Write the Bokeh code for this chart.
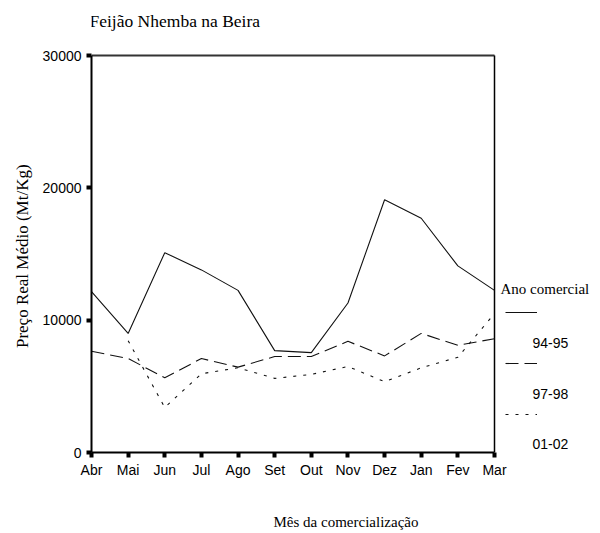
import math
from bokeh.plotting import figure
from bokeh.models import (Range1d, FixedTicker, Legend, LegendItem, Label,
                          PrintfTickFormatter)
from bokeh.embed import file_html
from bokeh.resources import INLINE

months = ["Abr", "Mai", "Jun", "Jul", "Ago", "Set", "Out", "Nov", "Dez", "Jan", "Fev", "Mar"]
y_ticks = [0, 10000, 20000, 30000]
s_94_95 = [12150, 9000, 15100, 13800, 12250, 7700, 7550, 11300, 19100, 17700, 14100, 12250]
s_97_98 = [7650, 7100, 5650, 7100, 6450, 7250, 7250, 8400, 7300, 9000, 8100, 8600]
s_01_02 = [math.nan, 8450, 3400, 5950, 6400, 5600, 5900, 6500, 5350, 6400, 7200, 10500]
series_names = ["94-95", "97-98", "01-02"]

x = list(range(len(months)))
last = len(months) - 1
y_max = y_ticks[-1]

SERIF = "Liberation Serif"
SANS = "Liberation Sans"

W, H = 600, 533
LEFT, BOTTOM = 91, 81
PLOT_W, PLOT_H = 403, 397  # pixel size of the box from Abr to Mar, 0 to 30000
x_end = last * (W - LEFT) / PLOT_W          # frame runs to the right edge (room for the key)
y_end = y_max * (H - BOTTOM) / PLOT_H       # and to the top edge (room for the title)

p = figure(width=W, height=H, output_backend="svg", toolbar_location=None,
           x_range=Range1d(0, x_end), y_range=Range1d(0, y_end),
           min_border_left=LEFT, min_border_right=0, min_border_top=0,
           min_border_bottom=BOTTOM)
p.above = []

p.background_fill_color = "white"
p.border_fill_color = "white"
p.outline_line_color = None
p.grid.grid_line_color = None

# box: top edge and right edge (left and bottom are the axes)
p.segment(x0=[0], y0=[y_max], x1=[last], y1=[y_max], line_color="#333333", line_width=2)
p.segment(x0=[last], y0=[0], x1=[last], y1=[y_max], line_color="black", line_width=1.5)

r1 = p.line(x, s_94_95, line_color="#111111", line_width=1.1)
r2 = p.line(x, s_97_98, line_color="#111111", line_width=1.1, line_dash="13 6")
r3 = p.line(x, s_01_02, line_color="#111111", line_width=1.1, line_dash="3 7")

for ax in (p.xaxis[0], p.yaxis[0]):
    ax.major_tick_line_width = 4
    ax.major_tick_line_color = "black"
    ax.major_tick_out = 5
    ax.major_tick_in = 0
    ax.minor_tick_line_color = None
    ax.axis_line_color = "black"
    ax.axis_line_width = 2
    ax.major_label_text_font = SANS
    ax.major_label_text_font_size = "14px"
    ax.major_label_text_color = "black"
    ax.axis_label_text_font = SERIF
    ax.axis_label_text_font_style = "normal"
    ax.axis_label_text_color = "black"

p.xaxis.bounds = (0, last)
p.xaxis.ticker = FixedTicker(ticks=x)
p.xaxis.major_label_overrides = {i: m for i, m in enumerate(months)}
p.xaxis.major_label_standoff = 4
p.xaxis.axis_label = "Mês da comercialização"
p.xaxis.axis_label_text_font_size = "15px"
p.xaxis.axis_label_standoff = 33

p.yaxis.bounds = (0, y_max)
p.yaxis.ticker = FixedTicker(ticks=y_ticks)
p.yaxis.formatter = PrintfTickFormatter(format="%d")
p.yaxis.major_label_standoff = 5
# trailing no-break spaces keep the label centred on the box rather than on the taller frame
p.yaxis.axis_label = "Preço Real Médio (Mt/Kg)" + "\u00a0" * 14
p.yaxis.axis_label_text_font_size = "17px"
p.yaxis.axis_label_standoff = 8

# title
p.add_layout(Label(x=-2, y=432, x_units="screen", y_units="screen",
                   text="Feijão Nhemba na Beira", text_font=SERIF,
                   text_font_size="17.5px", text_baseline="middle", text_color="black"))

# key: line samples, each with its season label below it
legend = Legend(items=[LegendItem(label=" ", renderers=[r]) for r in (r1, r2, r3)],
                location=(414, 28), glyph_width=32, glyph_height=20, spacing=31,
                padding=0, margin=0, label_text_font_size="10px", label_standoff=0,
                border_line_color=None, background_fill_alpha=0)
p.add_layout(legend, "center")

p.add_layout(Label(x=409, y=164, x_units="screen", y_units="screen",
                   text="Ano comercial", text_font=SERIF, text_font_size="15px",
                   text_baseline="middle", text_color="black"))
for name, yy in zip(series_names, [110, 59, 9]):
    p.add_layout(Label(x=441, y=yy, x_units="screen", y_units="screen",
                       text=name, text_font=SANS, text_font_size="14px",
                       text_baseline="middle", text_color="black"))

open("out.html", "w").write(file_html(p, INLINE))
